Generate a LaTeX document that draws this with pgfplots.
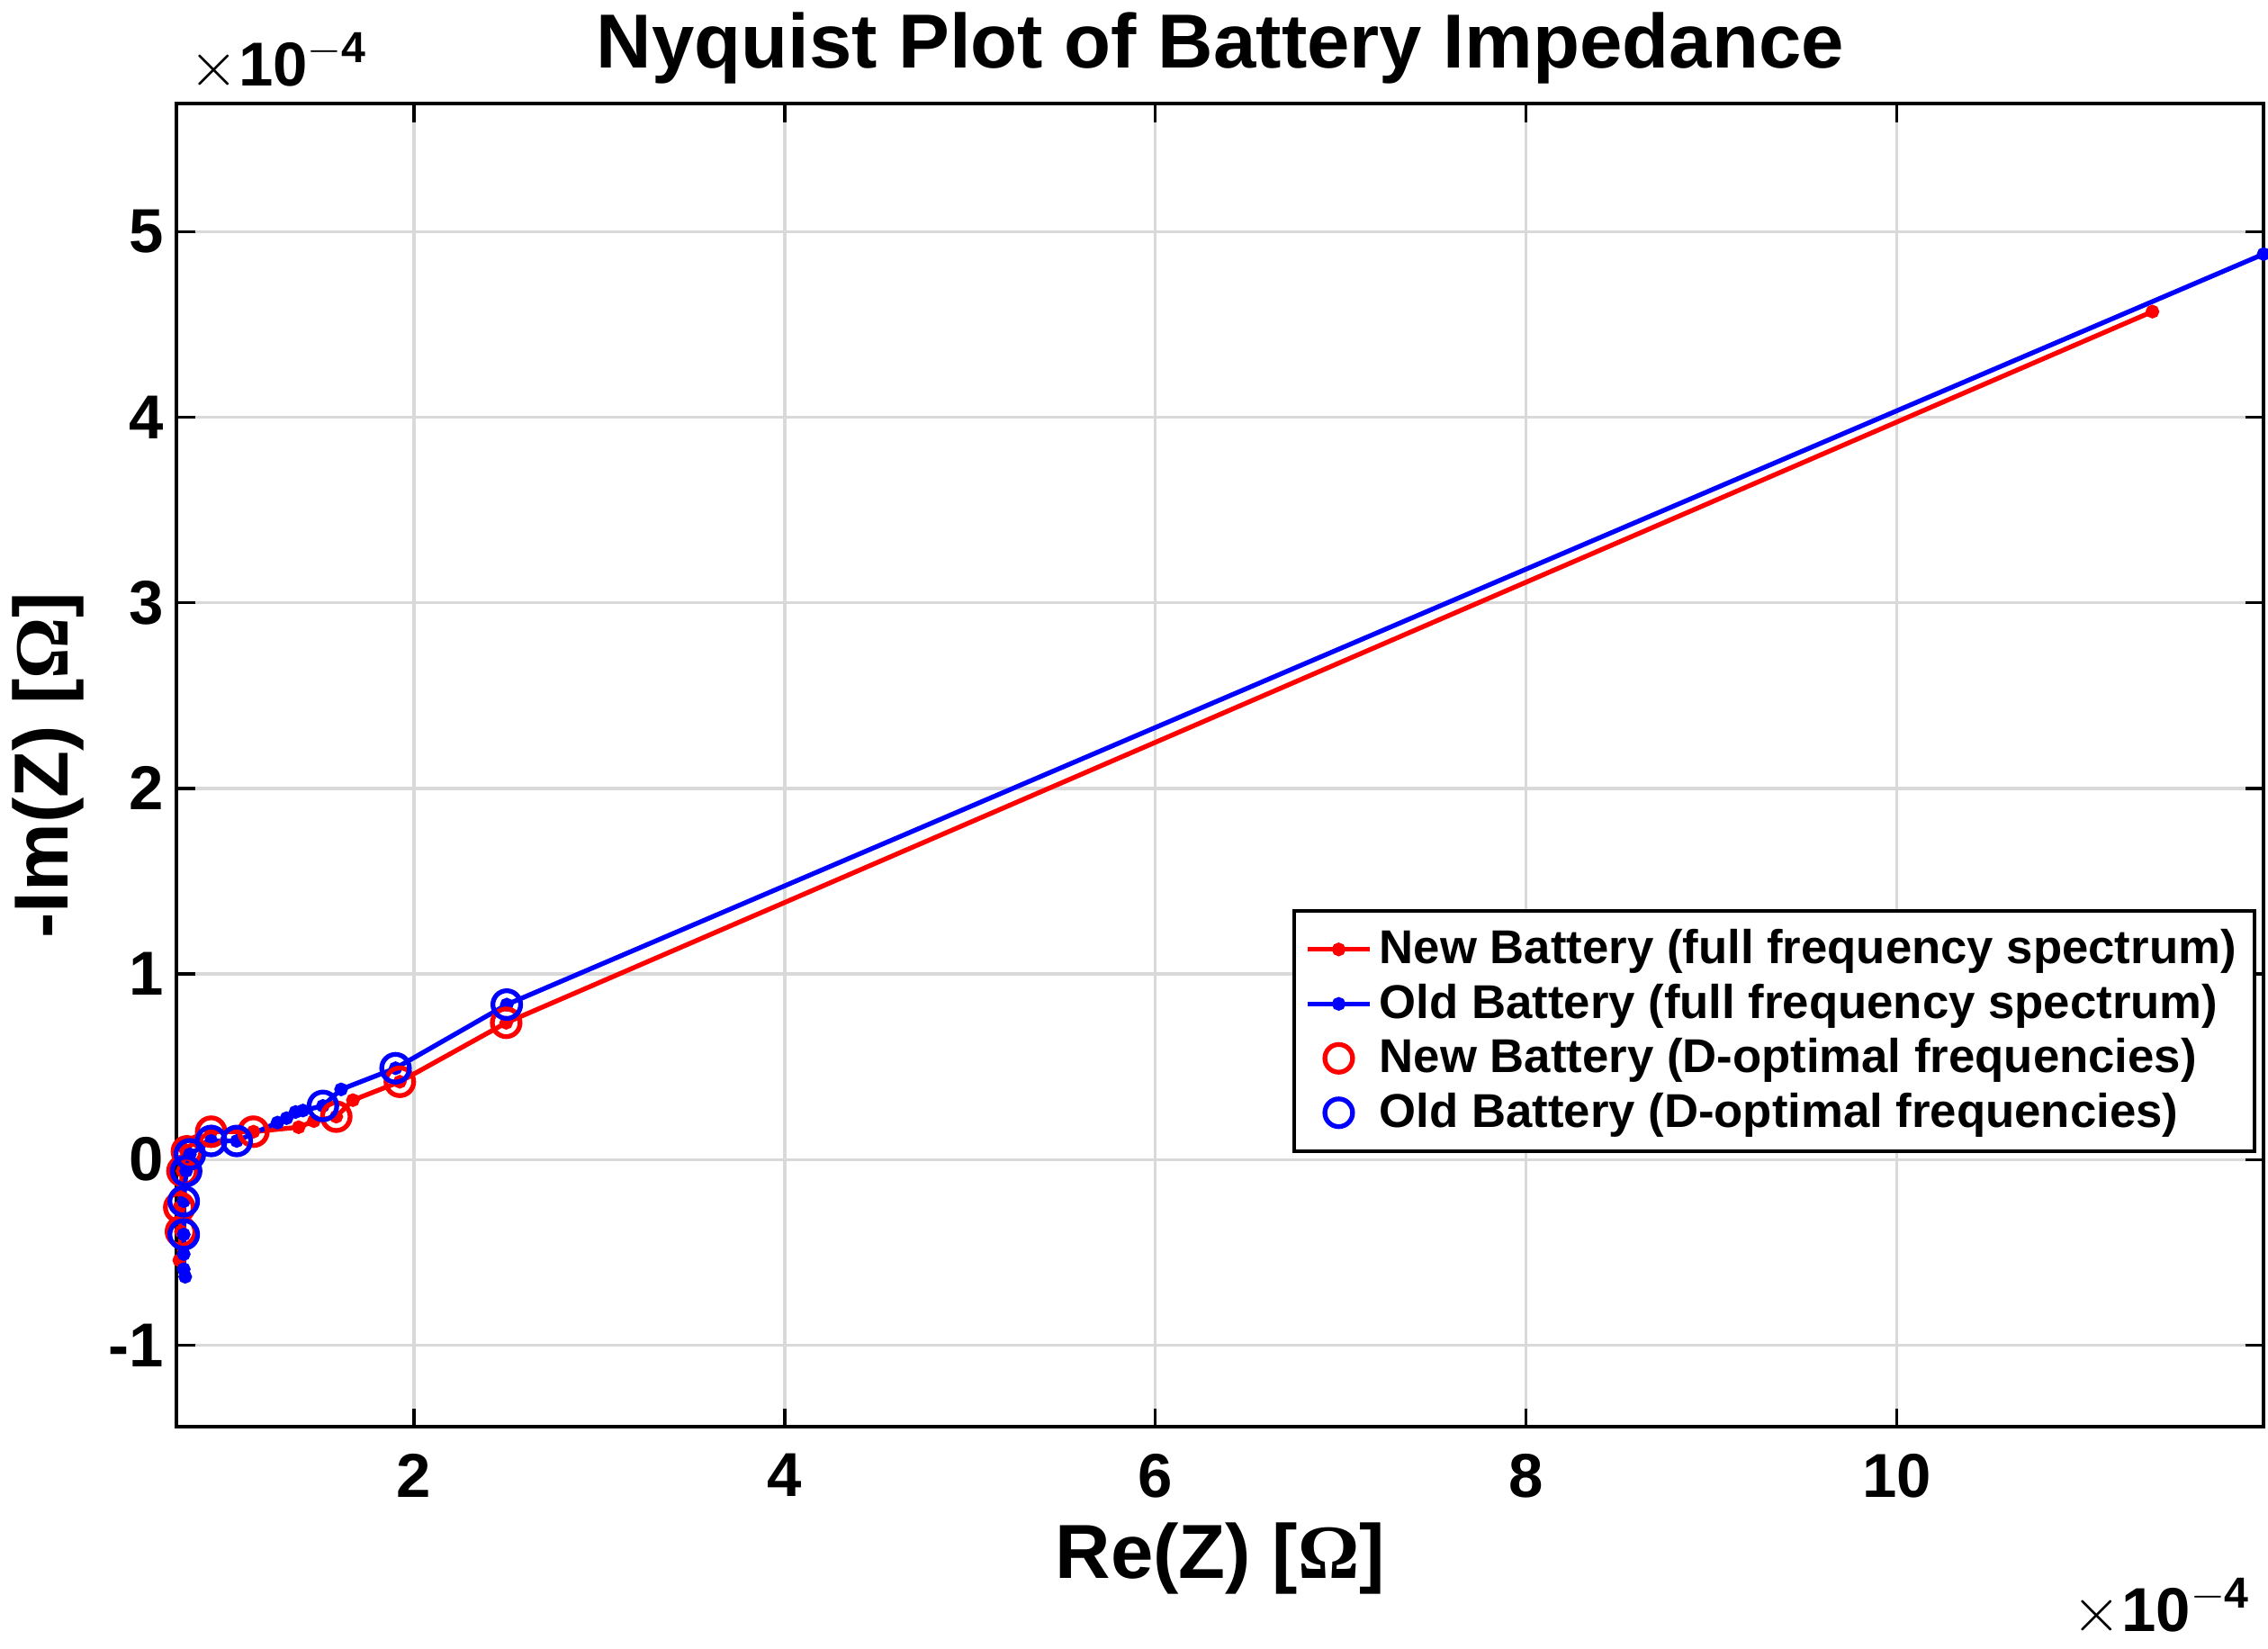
\documentclass[border=0pt]{standalone}
\usepackage{pgfplots}
\pgfplotsset{compat=1.18}
\usepackage{fontspec}
\setmainfont{Liberation Sans}
\newfontfamily\seriffont{Liberation Serif}
\begin{document}
\begin{tikzpicture}
\begin{axis}[scale only axis, width=20.1cm, height=12.74cm,
 xmin=0.719, xmax=11.98, ymin=-1.44, ymax=5.69,
 xtick={2,4,6,8,10}, ytick={-1,0,1,2,3,4,5},
 /pgf/number format/assume math mode=true,
 tick label style={font=\fontsize{17}{20}\selectfont\bfseries},
 xticklabel style={yshift=-4pt},
 grid=major, major grid style={gray!30, line width=0.8pt},
 axis line style={line width=1pt}, tick style={line width=0.8pt, black},
 tick align=inside, major tick length=5pt,
 title={\fontsize{21}{24}\selectfont\bfseries Nyquist Plot of Battery Impedance},
 title style={yshift=-4pt},
 xlabel={\fontsize{21}{24}\selectfont\bfseries Re(Z) [{\seriffont Ω}]},
 ylabel={\fontsize{21}{24}\selectfont\bfseries -Im(Z) [{\seriffont Ω}]},
 legend style={at={(rel axis cs:0.9965,0.391)}, anchor=north east, draw=black, line width=1pt,
  font=\fontsize{13}{15.5}\selectfont\bfseries, row sep=0pt, inner sep=3pt},
 legend cell align=left, clip=false]
\addplot[red, line width=1.3pt, mark=*, mark size=1.2pt] coordinates {
(0.733,-0.543)(0.742,-0.388)(0.733,-0.258)(0.75,-0.062)(0.766,0.052)(0.823,0.10)(0.905,0.15)
(1.133,0.15)(1.377,0.174)(1.459,0.207)(1.58,0.231)(1.67,0.32)(1.923,0.419)(2.497,0.737)(11.38,4.57)};
\addlegendentry{New Battery (full frequency spectrum)}
\addplot[blue, line width=1.3pt, mark=*, mark size=1.2pt] coordinates {
(0.765,-0.632)(0.757,-0.591)(0.757,-0.510)(0.757,-0.404)(0.757,-0.225)(0.77,-0.062)(0.79,0.028)
(0.905,0.10)(1.043,0.10)(1.263,0.199)(1.312,0.223)(1.36,0.256)(1.40,0.264)(1.508,0.289)
(1.606,0.378)(1.90,0.492)(2.50,0.835)(11.98,4.88)};
\addlegendentry{Old Battery (full frequency spectrum)}
\addplot[red, only marks, mark=o, mark size=3.8pt, line width=1.3pt] coordinates {
(0.742,-0.388)(0.733,-0.258)(0.75,-0.062)(0.774,0.044)(0.905,0.15)(1.133,0.15)(1.58,0.231)(1.923,0.419)(2.497,0.737)};
\addlegendentry{New Battery (D-optimal frequencies)}
\addplot[blue, only marks, mark=o, mark size=3.8pt, line width=1.3pt] coordinates {
(0.757,-0.404)(0.757,-0.225)(0.77,-0.062)(0.79,0.028)(0.905,0.10)(1.043,0.10)(1.508,0.289)(1.90,0.492)(2.50,0.835)};
\addlegendentry{Old Battery (D-optimal frequencies)}
\node[anchor=south west, font=\fontsize{17}{20}\selectfont] at (rel axis cs:0,1) {$\times\mathbf{10^{-4}}$};
\node[anchor=north east, font=\fontsize{17}{20}\selectfont] at (rel axis cs:1,0) [yshift=-38pt] {$\times\mathbf{10^{-4}}$};
\end{axis}
\end{tikzpicture}
\end{document}
